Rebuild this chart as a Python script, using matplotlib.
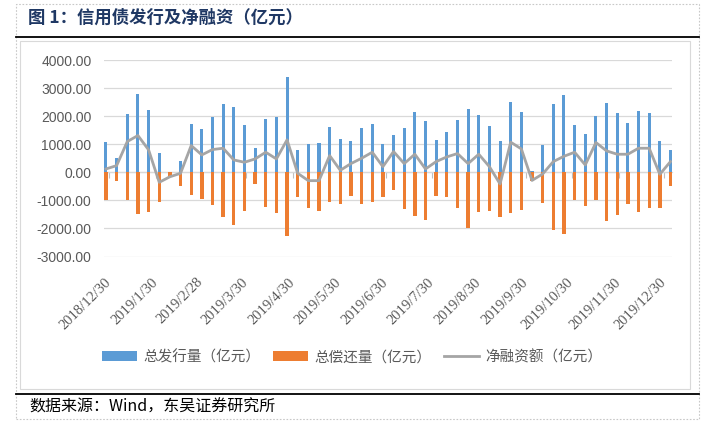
import matplotlib
matplotlib.use("Agg")
import matplotlib.pyplot as plt
import matplotlib.dates as mdates
from matplotlib.lines import Line2D
from matplotlib.patches import Rectangle, Patch
import pandas as pd

# ---------------- data ----------------
week_dates = pd.date_range("2018-12-28", periods=54, freq="7D")

issuance = [1071, 500, 2083, 2786, 2226, 679, 20, 405, 1726, 1548,
            1952, 2440, 2310, 1690, 857, 1905, 1952, 3381, 798, 1000,
            1048, 1619, 1190, 1119, 1595, 1726, 1000, 1333, 1595, 2155,
            1833, 1155, 1429, 1869, 2262, 2048, 1655, 1119, 2512, 2155,
            50, 976, 2429, 2738, 1690, 1357, 2012, 2464, 2107, 1750,
            2190, 2107, 1119, 798]

repayment = [-988, -298, -1000, -1500, -1405, -1071, -170, -476, -810, -952,
             -1167, -1595, -1881, -1369, -429, -1226, -1464, -2262, -869, -1286,
             -1369, -1048, -1143, -833, -1119, -1048, -869, -619, -1321, -1548,
             -1690, -833, -893, -1262, -1976, -1405, -1381, -1583, -1440, -1345,
             -310, -1107, -2060, -2214, -976, -1190, -976, -1726, -1524, -1143,
             -1405, -1286, -1286, -476]

net_financing = [119, 238, 1095, 1310, 800, -357, -160, -36, 952, 619,
                 810, 857, 440, 357, 476, 714, 476, 1155, -36, -298,
                 -298, 595, 71, 310, 500, 714, 202, 738, 310, 643,
                 119, 381, 548, 667, 310, 643, 200, -417, 1071, 833,
                 -290, -60, 381, 571, 714, 262, 1060, 762, 643, 643,
                 857, 857, -71, 381]

tick_dates = ["2018-12-30", "2019-01-30", "2019-02-28", "2019-03-30", "2019-04-30",
              "2019-05-30", "2019-06-30", "2019-07-30", "2019-08-30", "2019-09-30",
              "2019-10-30", "2019-11-30", "2019-12-30"]
tick_labels = ["2018/12/30", "2019/1/30", "2019/2/28", "2019/3/30", "2019/4/30",
               "2019/5/30", "2019/6/30", "2019/7/30", "2019/8/30", "2019/9/30",
               "2019/10/30", "2019/11/30", "2019/12/30"]

series_names = ["总发行量（亿元）", "总偿还量（亿元）", "净融资额（亿元）"]
title_text = "图 1：信用债发行及净融资（亿元）"
source_text = "数据来源：Wind，东吴证券研究所"

y_ticks = [-3000, -2000, -1000, 0, 1000, 2000, 3000, 4000]

# ---------------- style ----------------
BLUE = "#5B9BD5"
ORANGE = "#ED7D31"
GRAY = "#A5A5A5"
TXT = "#595959"
CJK = ["Noto Sans CJK SC", "DejaVu Sans"]

fig = plt.figure(figsize=(7.05, 4.23), dpi=100)
W, H = 705, 423

def fx(px):
    return px / W

def fy(py):
    return 1 - py / H

ax = fig.add_axes([fx(104), fy(256.5), fx(672) - fx(104), fy(60) - fy(256.5)])

x = mdates.date2num(week_dates)
ax.bar(x, issuance, width=2.0, color=BLUE, zorder=3, label=series_names[0])
ax.bar(x, repayment, width=2.2, color=ORANGE, zorder=3, label=series_names[1])
ax.plot(x, net_financing, color=GRAY, lw=2.0, zorder=4, label=series_names[2],
        solid_joinstyle="round")

ax.set_ylim(-3000, 4000)
ax.set_yticks(y_ticks)
ax.set_yticklabels([f"{v:.2f}" for v in y_ticks], fontfamily="Liberation Sans",
                   fontsize=10, color=TXT)
ax.yaxis.grid(True, color="#D9D9D9", lw=0.9, zorder=0)
ax.tick_params(axis="y", length=0, pad=9)

ax.set_xlim(x[0] - 1.3, x[-1] + 1.0)
tick_pos = mdates.date2num(pd.to_datetime(tick_dates))
ax.set_xticks(tick_pos)
ax.set_xticklabels(tick_labels, rotation=45, ha="right", va="center",
                   rotation_mode="anchor", fontfamily="Liberation Serif",
                   fontsize=10.5, color=TXT)
ax.tick_params(axis="x", length=0, pad=17)
for s in ax.spines.values():
    s.set_visible(False)

# x-axis line at zero with small tick marks
sec = ax.secondary_xaxis(3000 / 7000)
sec.set_xticks(tick_pos)
sec.set_xticklabels([])
sec.tick_params(axis="x", length=4, width=0.8, color="#BFBFBF", direction="out")
sec.spines["bottom"].set_color("#D9D9D9")
sec.spines["bottom"].set_linewidth(0.9)

# legend
handles = [Patch(facecolor=BLUE, edgecolor="none"),
           Patch(facecolor=ORANGE, edgecolor="none"),
           Line2D([0], [0], color=GRAY, lw=2.0)]
leg = fig.legend(handles, series_names, loc="center", ncol=3,
                 bbox_to_anchor=(fx(352), fy(357)), frameon=False,
                 prop={"family": CJK, "size": 10.5}, handlelength=2.4,
                 handleheight=0.75, handletextpad=0.4, columnspacing=0.9)
for t in leg.get_texts():
    t.set_color(TXT)

# page decorations
fig.add_artist(Rectangle((fx(16), fy(419)), fx(699) - fx(16), fy(4) - fy(419),
                         transform=fig.transFigure, fill=False,
                         edgecolor="#C8C8C8", lw=0.8, ls=(0, (1.5, 1.5))))
fig.add_artist(Rectangle((fx(20), fy(389)), fx(690) - fx(20), fy(41) - fy(389),
                         transform=fig.transFigure, fill=False,
                         edgecolor="#D9D9D9", lw=0.8))
fig.add_artist(Line2D([fx(16), fx(699)], [fy(37), fy(37)],
                      transform=fig.transFigure, color="black", lw=1.3))
fig.add_artist(Line2D([fx(16), fx(699)], [fy(394), fy(394)],
                      transform=fig.transFigure, color="black", lw=1.3))

fig.text(fx(28), fy(18), title_text, family=CJK, fontweight="bold",
         fontsize=12.5, color="#1F3864", ha="left", va="center")
fig.text(fx(29), fy(407), source_text, family=CJK, fontsize=11.5,
         color="black", ha="left", va="center")

fig.savefig("out.png", dpi=100)
